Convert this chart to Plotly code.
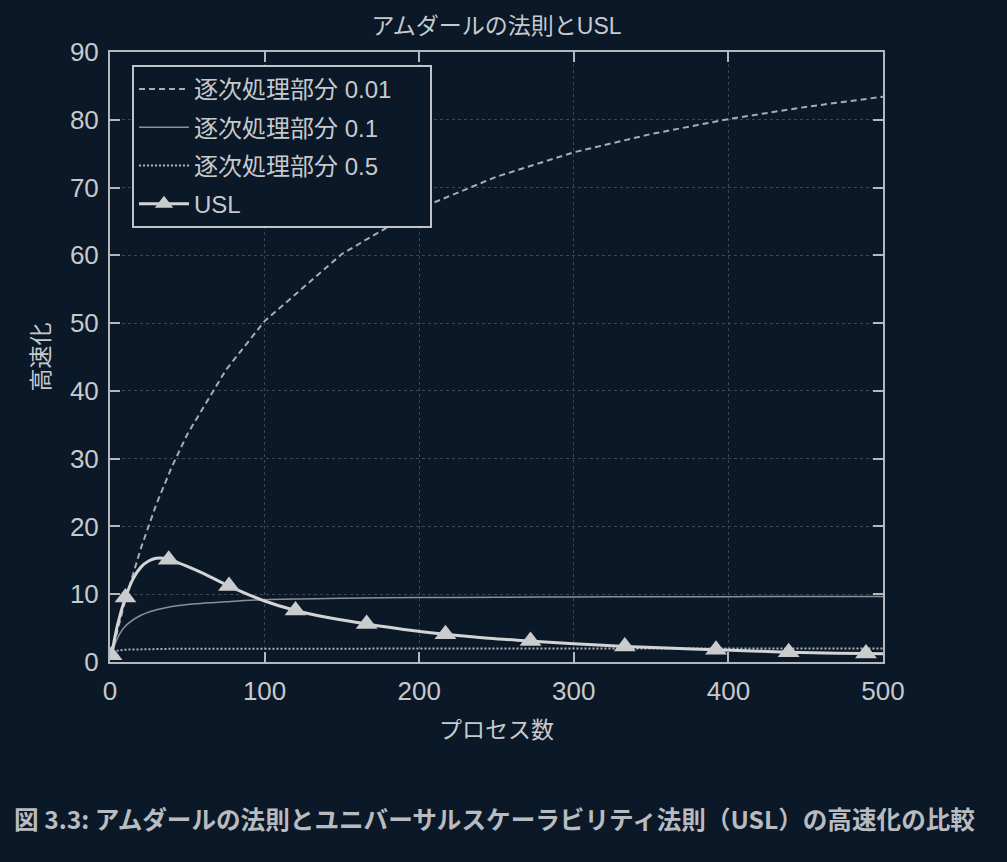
import plotly.graph_objects as go

# ---- data ----
procs = [1, 2, 5, 10, 20, 30, 40, 50, 75, 100, 150, 200, 250, 300, 350, 400, 450, 500]
amdahl_001 = [1.0, 2.0, 4.8, 9.2, 16.8, 23.3, 28.8, 33.6, 43.1, 50.3, 60.2, 66.9, 71.6, 75.2, 77.9, 80.1, 81.9, 83.4]
amdahl_01 = [1.0, 1.8, 3.6, 5.3, 6.9, 7.7, 8.2, 8.5, 8.9, 9.2, 9.4, 9.5, 9.55, 9.6, 9.62, 9.64, 9.65, 9.66]
amdahl_05 = [1.0, 1.33, 1.67, 1.82, 1.9, 1.94, 1.95, 1.96, 1.97, 1.98, 1.99, 1.99, 1.99, 1.99, 2.0, 2.0, 2.0, 2.0]

usl_n = [1, 5, 10, 15, 20, 25, 30, 35, 40, 50, 60, 77, 100, 120, 140, 166, 190, 217, 245, 272, 300, 333, 360, 392, 420, 439, 470, 489, 500]
usl_line = [1.0, 5.6, 9.5, 12.3, 14.0, 14.9, 15.3, 15.3, 15.0, 14.1, 13.1, 11.2, 9.0, 7.6, 6.6, 5.6, 4.8, 4.1, 3.5, 3.1, 2.7, 2.3, 2.05, 1.8, 1.6, 1.45, 1.3, 1.25, 1.2]
usl_mark_n = [1, 10, 38, 77, 120, 166, 217, 272, 333, 392, 439, 489]
usl_mark = [1.0, 9.5, 15.1, 11.2, 7.6, 5.6, 4.1, 3.1, 2.3, 1.8, 1.45, 1.25]

names = ["逐次処理部分 0.01", "逐次処理部分 0.1", "逐次処理部分 0.5", "USL"]
title_text = "アムダールの法則とUSL"
x_title = "プロセス数"
y_title = "高速化"
caption = "図 3.3: アムダールの法則とユニバーサルスケーラビリティ法則（USL）の高速化の比較"

BG = "#0b1827"
FG = "#c6cacd"
FONT = "Liberation Sans, Noto Sans CJK JP"
CJK = "Noto Sans CJK JP"
PAD = "\u00a0" * 5  # right padding inside the legend box

fig = go.Figure()
fig.add_trace(go.Scatter(x=procs, y=amdahl_001, mode="lines", name=names[0] + PAD, legendgroup="a",
                         line=dict(color="#a9adb2", width=2, dash="6px,4px")))
fig.add_trace(go.Scatter(x=procs, y=amdahl_01, mode="lines", name=names[1], legendgroup="b",
                         line=dict(color="#8c9095", width=1.5, shape="spline")))
fig.add_trace(go.Scatter(x=procs[1:], y=amdahl_05[1:], mode="lines", name=names[2], legendgroup="c",
                         line=dict(color="#b0b4b8", width=2, dash="2px,2px")))
fig.add_trace(go.Scatter(x=usl_n, y=usl_line, mode="lines", showlegend=False, legendgroup="d",
                         line=dict(color="#d2d4d6", width=3, shape="spline")))
fig.add_trace(go.Scatter(x=usl_mark_n, y=usl_mark, mode="markers", showlegend=False, legendgroup="d",
                         marker=dict(symbol="triangle-up", size=19, color="#c9cbcd")))
fig.add_trace(go.Scatter(x=[None], y=[None], mode="lines+markers", name=names[3], legendgroup="d",
                         line=dict(color="#d2d4d6", width=3),
                         marker=dict(symbol="triangle-up", size=19, color="#c9cbcd")))

axis_common = dict(
    showline=True, linecolor="#b4b8bc", linewidth=2, mirror="ticks",
    ticks="inside", ticklen=10, tickcolor="#b4b8bc", tickwidth=2,
    showgrid=True, gridcolor="#3c4756", griddash="dot", gridwidth=1,
    zeroline=False, tickfont=dict(family=FONT, size=26, color=FG),
)

fig.update_layout(
    width=1007, height=862,
    paper_bgcolor=BG, plot_bgcolor=BG,
    margin=dict(l=110, r=124, t=52, b=200),
    font=dict(family=FONT, color=FG),
    title=dict(text=title_text, x=(110 + 883) / 2 / 1007, xanchor="center",
               y=1 - 26 / 862, yanchor="middle",
               font=dict(family=FONT, size=23, color=FG)),
    xaxis=dict(range=[0, 500], dtick=100, title=dict(text=x_title, standoff=17,
               font=dict(family=FONT, size=23, color=FG)), ticklabelstandoff=5, **axis_common),
    yaxis=dict(range=[0, 90], dtick=10, title=dict(text=y_title, standoff=14,
               font=dict(family=FONT, size=23, color=FG)), ticklabelstandoff=4, **axis_common),
    legend=dict(x=(132 - 110) / 773, y=(662 - 65) / 610, xanchor="left", yanchor="top",
                bgcolor=BG, bordercolor="#c0c4c8", borderwidth=2,
                font=dict(family=FONT, size=24, color=FG), tracegroupgap=4,
                traceorder="grouped", itemwidth=50),
    showlegend=True,
    annotations=[dict(text="<b>" + caption + "</b>", xref="paper", yref="paper",
                      x=(12 - 110) / 773, y=(662 - 818) / 610, xanchor="left", yanchor="middle",
                      showarrow=False, font=dict(family=CJK, size=24.6, color="#b8bcc0"))],
)

fig.write_html("out.html")
